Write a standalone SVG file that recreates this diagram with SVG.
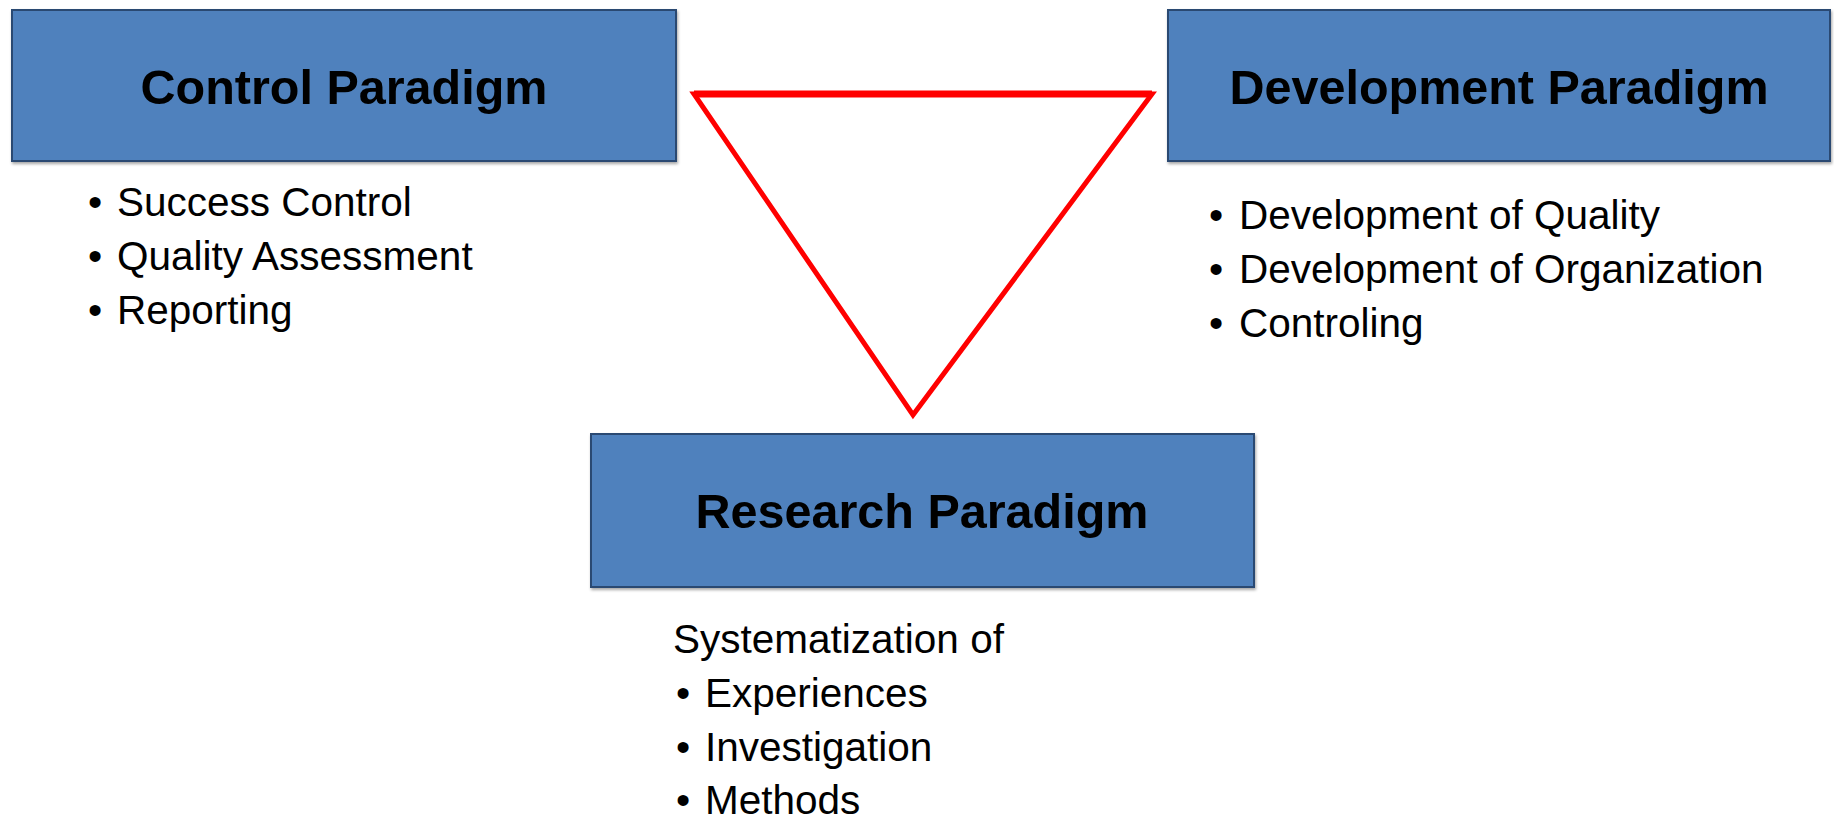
<svg xmlns="http://www.w3.org/2000/svg" width="1834" height="822" viewBox="0 0 1834 822">
<style>
.box{fill:#4F81BD;stroke:#2B4A72;stroke-width:2}
.title{font-family:"Liberation Sans",Arial,sans-serif;font-weight:bold;font-size:48.5px;fill:#000;text-anchor:middle}
.item{font-family:"Liberation Sans",Arial,sans-serif;font-size:40.5px;fill:#000}
.tri{fill:none;stroke:#FF0000;stroke-width:5;stroke-linejoin:miter}
</style>
<defs>
<filter id="sh" x="-5%" y="-5%" width="110%" height="120%">
<feDropShadow dx="1" dy="2" stdDeviation="1.5" flood-color="#000" flood-opacity="0.35"/>
</filter>
</defs>
<rect width="1834" height="822" fill="#fff"/>
<g id="connectors">
<polygon class="tri" points="694,94 1152,94 913,415"/>
<line x1="694" y1="94" x2="1152" y2="94" stroke="#FF0000" stroke-width="7"/>
</g>
<g id="control">
<rect class="box" x="12" y="10" width="664" height="151" filter="url(#sh)"/>
<text class="title" x="344" y="104">Control Paradigm</text>
<text class="item" x="88" y="216">•</text><text class="item" x="117" y="216">Success Control</text>
<text class="item" x="88" y="270">•</text><text class="item" x="117" y="270">Quality Assessment</text>
<text class="item" x="88" y="324">•</text><text class="item" x="117" y="324">Reporting</text>
</g>
<g id="development">
<rect class="box" x="1168" y="10" width="662" height="151" filter="url(#sh)"/>
<text class="title" x="1499" y="104">Development Paradigm</text>
<text class="item" x="1209" y="229">•</text><text class="item" x="1239" y="229">Development of Quality</text>
<text class="item" x="1209" y="283">•</text><text class="item" x="1239" y="283">Development of Organization</text>
<text class="item" x="1209" y="337">•</text><text class="item" x="1239" y="337">Controling</text>
</g>
<g id="research">
<rect class="box" x="591" y="434" width="663" height="153" filter="url(#sh)"/>
<text class="title" x="922" y="528">Research Paradigm</text>
<text class="item" x="673" y="653">Systematization of</text>
<text class="item" x="676" y="707">•</text><text class="item" x="705" y="707">Experiences</text>
<text class="item" x="676" y="761">•</text><text class="item" x="705" y="761">Investigation</text>
<text class="item" x="676" y="814">•</text><text class="item" x="705" y="814">Methods</text>
</g>
</svg>
